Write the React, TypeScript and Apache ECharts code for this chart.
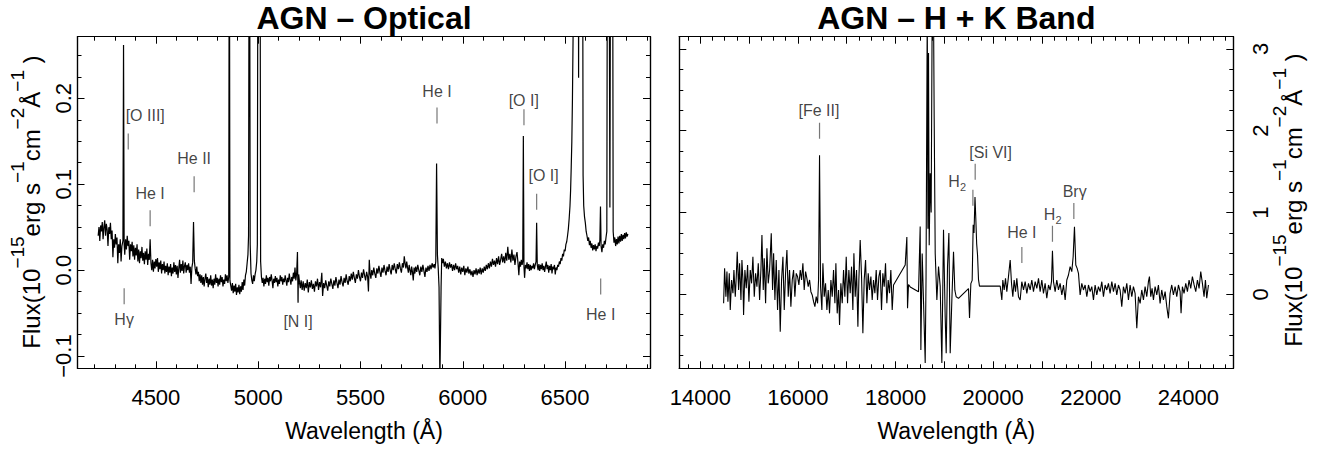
import React, { useEffect, useRef } from "react";
import * as echarts from "echarts";

// ---------------- DATA ----------------
// Optical spectrum: [wavelength (Å), flux (1e-15 erg s^-1 cm^-2 Å^-1)]
const opticalSpectrum: [number, number][] = [
  [4218,0.040],[4222,0.050],[4226,0.034],[4230,0.052],[4234,0.045],[4238,0.056],[4242,0.036],[4246,0.050],[4250,0.058],[4254,0.040],
  [4258,0.054],[4262,0.047],[4266,0.028],[4270,0.050],[4274,0.042],[4278,0.055],[4282,0.036],[4286,0.046],[4290,0.015],[4294,0.036],
  [4298,0.026],[4302,0.042],[4306,0.030],[4310,0.038],[4314,0.008],[4318,0.030],[4322,0.020],[4326,0.036],[4330,0.010],[4334,0.028],
  [4339,0.034],[4342,0.262],[4345,0.030],
  [4348,0.018],[4352,0.036],[4356,0.024],[4360,0.040],[4364,0.028],[4368,0.034],[4372,0.012],[4376,0.030],[4380,0.022],[4384,0.033],
  [4388,0.016],[4392,0.029],[4396,0.012],[4400,0.026],[4404,0.017],[4408,0.030],[4412,0.010],[4416,0.024],[4420,0.008],[4424,0.022],
  [4428,0.014],[4432,0.027],[4436,0.011],[4440,0.020],[4444,0.007],[4448,0.022],[4452,0.012],[4456,0.025],[4460,0.006],[4464,0.019],
  [4468,0.012],[4472,0.036],[4476,0.008],
  [4480,0.000],[4484,0.012],[4488,-0.002],[4492,0.010],[4496,0.002],[4500,0.013],[4504,0.004],[4508,0.014],[4512,-0.002],[4516,0.009],
  [4520,0.001],[4524,0.011],[4528,-0.004],[4532,0.007],[4536,0.000],[4540,0.010],[4544,-0.004],[4548,0.005],[4552,-0.002],[4556,0.008],
  [4560,-0.006],[4564,0.004],[4568,-0.003],[4572,0.007],[4576,-0.007],[4580,0.003],[4584,-0.004],[4588,0.009],[4592,-0.002],[4596,0.006],
  [4600,-0.005],[4604,0.005],[4608,-0.009],[4612,0.002],[4616,0.012],[4620,-0.003],[4624,0.007],[4628,-0.001],[4632,0.011],[4636,-0.004],
  [4640,0.005],[4644,0.009],[4648,-0.003],[4652,0.006],[4656,0.000],[4660,0.008],[4664,-0.003],[4668,0.004],[4672,-0.016],[4676,0.003],
  [4680,0.009],[4684,0.056],[4688,0.011],
  [4692,0.002],[4696,-0.005],[4700,0.004],[4704,-0.007],[4708,-0.002],[4712,-0.013],[4716,-0.005],[4720,-0.015],[4724,-0.006],[4728,-0.017],
  [4732,-0.008],[4736,-0.019],[4740,-0.010],[4744,-0.004],[4748,-0.015],[4752,-0.008],[4756,-0.020],[4760,-0.010],[4764,-0.017],[4768,-0.006],
  [4772,-0.018],[4776,-0.011],[4780,-0.021],[4784,-0.010],[4788,-0.017],[4792,-0.005],[4796,-0.015],[4800,-0.009],[4804,-0.019],[4808,-0.010],
  [4812,-0.017],[4816,-0.006],[4820,-0.014],[4824,-0.008],[4828,-0.019],[4832,-0.011],[4836,-0.016],[4840,-0.005],[4844,-0.013],[4848,-0.006],
  [4852,-0.015],[4856,-0.008],[4859,0.5],[4862,-0.012],
  [4866,-0.018],[4870,-0.024],[4874,-0.015],[4878,-0.027],[4882,-0.018],[4886,-0.025],[4890,-0.016],[4894,-0.029],[4898,-0.020],[4902,-0.026],
  [4906,-0.017],[4910,-0.028],[4914,-0.019],[4918,-0.025],[4922,-0.014],[4926,-0.023],[4930,-0.011],[4934,-0.018],[4938,-0.006],[4942,-0.002],
  [4946,0.008],[4950,0.018],[4953,0.040],[4957,0.6],[4961,0.030],[4965,-0.004],[4969,-0.012],[4973,-0.016],[4977,-0.006],[4981,-0.013],
  [4985,-0.005],[4989,0.000],[4993,0.010],[4996,0.030],[5000,0.6],[5008,0.6],[5012,0.010],
  [5016,-0.008],[5020,-0.015],[5024,-0.009],[5028,-0.019],[5032,-0.010],[5036,-0.016],[5040,-0.006],[5044,-0.014],[5048,-0.009],[5052,-0.018],
  [5056,-0.008],[5060,-0.013],[5064,-0.005],[5068,-0.012],[5072,-0.021],[5076,-0.010],[5080,-0.015],[5084,-0.007],[5088,-0.014],[5092,-0.009],
  [5096,-0.019],[5100,-0.011],[5104,-0.016],[5108,-0.006],[5112,-0.013],[5116,-0.008],[5120,-0.017],[5124,-0.010],[5128,-0.014],[5132,-0.006],
  [5136,-0.012],[5140,-0.018],[5144,-0.009],[5148,-0.014],[5152,-0.004],[5156,-0.011],[5160,-0.017],[5164,-0.008],[5168,-0.013],[5172,-0.003],
  [5176,-0.010],[5180,0.003],[5184,-0.012],[5188,-0.004],[5192,0.021],[5195,-0.038],[5198,-0.005],
  [5202,-0.014],[5206,-0.021],[5210,-0.012],[5215,-0.023],[5220,-0.013],[5225,-0.024],[5230,-0.015],[5235,-0.021],[5240,-0.011],[5245,-0.026],
  [5250,-0.014],[5255,-0.020],[5260,-0.012],[5265,-0.022],[5270,-0.016],[5275,-0.025],[5280,-0.013],[5285,-0.019],[5290,-0.010],[5295,-0.023],
  [5300,-0.014],[5305,-0.020],[5311,-0.003],[5315,-0.030],[5320,-0.015],[5325,-0.021],[5330,-0.012],[5335,-0.018],[5340,-0.024],[5345,-0.013],
  [5350,-0.019],[5355,-0.010],[5360,-0.016],[5365,-0.022],[5370,-0.012],[5375,-0.018],[5380,-0.008],[5385,-0.015],[5390,-0.021],[5395,-0.011],
  [5400,-0.017],[5405,-0.007],[5410,-0.014],[5415,-0.019],[5420,-0.009],[5425,-0.015],[5430,-0.005],[5435,-0.013],[5440,-0.017],
  [5445,-0.007],[5450,-0.013],[5455,-0.004],[5460,-0.011],[5465,-0.002],[5470,-0.009],[5475,-0.015],[5480,-0.005],[5485,-0.010],[5490,0.000],
  [5495,-0.008],[5500,-0.013],[5505,-0.003],[5510,-0.009],[5515,0.001],[5520,-0.006],[5525,-0.012],[5530,-0.002],[5535,-0.008],[5539,-0.025],
  [5543,0.012],[5547,-0.004],[5551,-0.010],[5555,0.000],[5560,-0.006],[5565,0.003],[5570,-0.004],[5575,-0.009],[5580,0.002],[5585,-0.004],
  [5590,0.005],[5595,-0.002],[5600,-0.008],[5605,0.003],[5610,-0.003],[5615,0.006],[5620,-0.001],[5625,-0.006],[5630,0.004],[5635,-0.002],
  [5640,0.007],[5645,0.000],[5650,-0.005],[5655,0.006],[5660,0.000],[5665,0.008],[5670,0.001],[5675,-0.004],[5680,0.007],[5685,0.001],
  [5690,0.009],[5695,0.002],[5700,-0.003],[5705,0.008],[5710,0.003],[5714,0.016],[5718,0.008],[5722,0.002],[5726,0.010],[5730,0.003],
  [5734,-0.003],[5738,0.006],[5742,0.000],[5746,-0.006],[5750,0.004],[5754,-0.002],[5758,-0.012],[5762,0.003],[5766,-0.004],[5770,0.004],
  [5775,-0.002],[5780,0.006],[5785,0.000],[5790,-0.006],[5795,0.004],[5800,-0.002],[5805,0.006],[5810,-0.001],[5815,-0.008],[5820,0.003],
  [5825,-0.002],[5830,0.005],[5835,-0.001],[5840,0.006],[5845,0.001],[5850,0.008],[5855,0.003],[5860,0.007],[5864,0.002],[5868,0.010],
  [5872,0.124],[5876,0.018],[5880,0.002],[5884,-0.020],[5888,-0.130],[5891,-0.130],[5894,-0.020],[5897,0.014],
  [5901,0.008],[5905,0.013],[5910,0.004],[5915,0.010],[5920,0.002],[5925,0.008],[5930,0.001],[5935,0.009],[5940,0.003],[5945,0.007],
  [5950,-0.001],[5955,0.006],[5960,0.000],[5965,0.008],[5970,0.001],[5975,0.005],[5980,-0.003],[5985,0.004],[5990,-0.005],[5995,0.003],
  [6000,-0.002],[6005,0.005],[6010,-0.006],[6015,0.002],[6020,-0.003],[6025,0.004],[6030,-0.004],[6035,0.001],[6040,-0.006],[6045,-0.001],
  [6050,-0.008],[6055,0.000],[6060,-0.005],[6065,0.002],[6070,-0.006],[6075,0.001],[6080,-0.004],[6085,0.003],[6090,-0.005],[6095,0.002],
  [6100,-0.003],[6105,0.004],[6110,-0.001],[6115,0.006],[6120,0.001],[6125,0.008],[6130,0.002],[6135,0.010],[6140,0.004],[6145,0.013],
  [6150,0.006],[6155,0.011],[6160,0.004],[6165,0.014],[6170,0.007],[6175,0.016],[6180,0.006],[6185,0.012],[6190,0.019],[6195,0.009],
  [6200,0.016],[6205,0.008],[6210,0.020],[6215,0.011],[6220,0.027],[6225,0.012],[6230,0.019],[6235,0.009],[6240,0.024],[6245,0.011],
  [6250,0.018],[6255,0.006],[6260,0.016],[6265,0.021],[6270,0.008],[6274,-0.006],[6278,0.010],[6282,0.004],[6286,0.012],[6290,0.006],
  [6293,0.010],[6296,0.156],[6299,0.004],[6302,-0.009],[6306,0.006],
  [6310,0.002],[6314,0.009],[6318,0.001],[6322,0.007],[6326,-0.001],[6330,0.006],[6334,0.000],[6338,0.005],[6342,0.002],[6346,0.008],
  [6350,0.001],[6354,0.006],[6358,0.010],[6361,0.055],[6364,0.006],[6368,0.000],[6372,0.007],[6376,-0.001],[6380,0.006],[6384,0.001],
  [6388,0.008],[6392,0.000],[6396,0.005],[6400,-0.002],[6404,0.004],[6408,0.010],[6412,0.001],[6416,0.006],[6420,-0.003],[6424,0.005],
  [6428,0.000],[6432,0.007],[6436,-0.004],[6440,0.004],[6444,0.001],[6448,0.006],[6452,-0.005],[6456,0.003],[6460,0.000],[6464,0.006],
  [6468,0.004],[6472,0.010],[6476,0.007],
  [6480,0.014],[6484,0.011],[6488,0.019],[6492,0.016],[6496,0.024],[6500,0.022],[6504,0.030],[6508,0.033],[6512,0.040],[6516,0.048],
  [6520,0.060],[6524,0.075],[6527,0.093],[6530,0.120],[6533,0.150],[6536,0.200],[6539,0.270],[6542,0.400],[6545,0.8],[6555,0.9],
  [6562,0.8],[6566,0.224],[6570,0.8],[6580,0.9],[6585,0.5],[6588,0.110],[6591,0.075],[6595,0.062],[6599,0.055],[6603,0.045],
  [6607,0.040],[6611,0.034],[6615,0.038],[6619,0.029],[6623,0.034],[6627,0.026],[6631,0.031],[6635,0.023],[6639,0.029],[6643,0.024],
  [6647,0.030],[6651,0.022],[6655,0.028],[6659,0.025],[6663,0.032],[6667,0.028],[6670,0.035],[6673,0.074],[6676,0.028],[6680,0.021],
  [6684,0.030],[6688,0.026],[6692,0.034],[6696,0.030],[6700,0.038],[6704,0.045],[6708,0.6],[6713,0.6],[6719,0.073],[6724,0.6],
  [6731,0.6],[6735,0.045],
  [6739,0.032],[6743,0.038],[6747,0.028],[6751,0.036],[6755,0.030],[6759,0.039],[6763,0.031],[6767,0.040],[6771,0.033],[6775,0.042],
  [6779,0.034],[6783,0.041],[6787,0.036],[6791,0.043],[6795,0.037],[6799,0.044],[6803,0.039],[6807,0.042],
];

// Near-IR (H + K band) spectrum: [wavelength (Å), flux]
const nirSpectrum: [number, number][] = [
  [14478,-0.110],[14498,0.317],[14525,-0.029],[14546,0.277],[14566,-0.090],[14594,0.256],[14614,-0.192],[14641,0.175],[14669,0.012],[14689,0.297],
  [14717,-0.029],[14737,0.216],[14757,0.521],[14785,0.053],[14805,0.379],[14833,-0.070],[14853,0.419],[14874,0.175],[14887,-0.253],[14914,0.297],
  [14942,0.073],[14969,0.358],[14996,-0.090],[15024,0.297],[15051,0.134],[15078,0.460],[15106,-0.029],[15133,0.256],[15160,0.093],[15188,0.379],
  [15215,-0.070],[15242,0.297],[15263,0.725],[15290,0.053],[15310,0.440],[15338,-0.110],[15365,0.562],[15392,0.134],[15420,0.297],[15454,0.745],
  [15481,0.053],[15502,0.501],[15529,-0.070],[15556,0.419],[15583,-0.192],[15611,0.297],[15638,-0.457],[15665,0.175],[15693,0.460],[15720,-0.192],
  [15747,0.256],[15775,0.542],[15802,-0.029],[15829,0.297],[15856,-0.151],[15884,0.175],[15911,0.297],[15938,-0.029],[15966,0.256],[15993,0.216],
  [16020,0.114],[16048,0.297],[16075,0.175],[16102,0.379],[16129,0.053],[16157,0.277],[16184,0.195],[16211,0.093],[16239,0.175],[16266,0.032],
  [16293,-0.008],[16321,-0.090],[16348,-0.151],[16375,-0.029],[16403,-0.110],[16423,0.175],[16443,1.700],[16464,0.093],[16491,-0.192],[16512,0.379],
  [16539,-0.029],[16566,0.134],[16594,-0.192],[16621,0.053],[16648,-0.233],[16676,0.175],[16703,-0.029],[16730,0.297],[16758,-0.110],[16778,0.379],
  [16805,-0.233],[16833,0.053],[16853,-0.375],[16880,0.134],[16908,-0.110],[16935,0.297],[16962,-0.029],[16990,0.460],[17017,-0.110],[17044,0.297],
  [17071,0.012],[17099,0.338],[17126,-0.192],[17147,0.501],[17174,-0.029],[17201,0.297],[17229,-0.396],[17249,0.175],[17276,0.664],[17304,0.216],
  [17331,-0.477],[17358,0.175],[17386,0.419],[17413,-0.110],[17440,0.256],[17467,0.053],[17495,0.216],[17522,-0.070],[17549,0.175],[17577,0.012],
  [17604,0.297],[17631,-0.070],[17659,0.216],[17686,0.297],[17713,-0.192],[17740,0.256],[17768,0.093],[17795,0.379],[17822,-0.110],[17850,0.175],
  [17877,0.012],[17904,0.297],[17932,-0.192],[17959,0.114],
  [18198,0.358],[18232,0.700],[18246,-0.170],[18266,0.120],[18301,0.090],
  [18471,0.030],[18505,0.830],[18519,-0.680],[18546,0.500],[18574,-0.100],[18608,-0.840],[18625,0.200],[18650,3.500],[18664,0.800],[18676,2.950],
  [18690,0.600],[18710,1.480],[18730,1.000],[18751,3.500],[18778,3.500],[18792,2.150],[18813,0.500],[18847,-0.070],[18881,0.340],[18915,0.100],
  [18949,-0.840],[18983,0.790],[19017,-0.270],[19038,-0.720],[19065,0.340],[19093,0.750],[19120,-0.720],[19154,-0.070],[19188,0.520],[19215,0.050],
  [19242,-0.030],[19290,-0.050],
  [19495,0.070],[19516,-0.290],[19543,0.130],[19570,0.170],[19591,0.850],[19608,0.750],[19628,1.190],[19645,0.920],[19662,0.620],[19680,0.480],
  [19700,0.180],[19720,0.100],
  [20144,0.101],[20178,-0.070],[20198,0.175],[20226,0.053],[20253,0.195],[20280,0.032],[20314,0.216],[20349,0.419],[20376,0.134],[20403,-0.029],
  [20430,0.175],[20458,0.032],[20485,0.195],[20519,-0.029],[20553,-0.070],[20587,0.154],[20622,0.053],[20656,0.154],[20690,0.012],[20724,0.134],
  [20758,0.053],[20792,0.175],[20826,0.032],[20861,0.154],[20895,0.073],[20929,0.195],[20963,0.032],[20997,0.175],[21031,0.012],[21065,0.134],
  [21099,-0.049],[21134,0.114],[21168,0.053],[21195,0.154],[21215,0.533],[21236,0.154],[21270,0.032],[21304,0.175],[21338,0.053],[21372,0.134],
  [21407,-0.008],[21441,0.114],[21475,-0.070],[21509,0.175],[21543,0.236],[21577,0.338],[21611,0.277],[21639,0.460],[21666,0.827],[21693,0.358],
  [21721,0.317],[21748,0.256],[21782,-0.008],[21816,0.134],[21850,0.053],[21884,0.114],[21919,-0.029],[21953,0.114],[21987,0.032],[22021,0.093],
  [22055,-0.070],[22089,0.114],[22123,-0.008],[22157,0.093],[22192,0.032],[22226,0.154],[22260,-0.029],[22294,0.114],[22328,0.053],[22362,0.134],
  [22396,0.012],[22431,0.154],[22465,0.032],[22499,0.134],[22533,-0.008],[22567,0.114],[22601,0.053],[22635,-0.151],[22669,0.093],[22704,0.012],
  [22738,0.134],[22772,-0.070],[22806,0.114],[22840,-0.029],[22874,0.093],[22908,0.012],[22943,-0.416],[22977,-0.029],[23011,-0.111],[23045,0.053],
  [23079,-0.070],[23113,0.093],[23147,-0.029],[23181,0.154],[23202,0.216],[23229,-0.029],[23256,0.073],[23284,-0.070],[23318,0.093],[23352,-0.008],
  [23386,0.114],[23420,-0.111],[23454,0.053],[23489,-0.070],[23523,0.032],[23557,-0.151],[23591,-0.294],[23625,0.012],[23659,0.114],[23693,-0.008],
  [23728,0.093],[23762,-0.029],[23796,0.114],[23830,0.032],[23850,-0.233],[23877,0.093],[23911,0.012],[23946,0.134],[23980,0.032],[24014,0.175],
  [24048,0.073],[24082,0.216],[24117,0.114],[24151,0.032],[24185,0.175],[24219,0.073],[24253,0.277],[24287,0.134],[24321,-0.029],[24349,0.175],
  [24376,-0.049],[24411,0.114],
];

// Line identifications, optical panel
const opticalLineNames = ["[O III]", "He II", "He I", "Hγ", "[N I]", "He I", "[O I]", "[O I]", "He I"];
const opticalMarkWave = [4365, 4687, 4472, 4345, 5195, 5874, 6299, 6361, 6674];
const opticalMarkFlux = [0.1496, 0.100, 0.0605, -0.0303, -0.0262, 0.180, 0.178, 0.0797, -0.0192];
const opticalLabelWave = [4448, 4687, 4472, 4345, 5195, 5874, 6298, 6395, 6674];
const opticalLabelFlux = [0.180, 0.130, 0.0896, -0.057, -0.0594, 0.208, 0.198, 0.110, -0.0512];

// Line identifications, H + K panel
const nirLineNames = ["[Fe II]", "H2", "[Si VI]", "He I", "H2", "Brγ"];
const nirMarkWave = [16443, 19585, 19632, 20588, 21215, 21653];
const nirMarkFlux = [2.00, 1.18, 1.50, 0.48, 0.74, 1.02];
const nirLabelWave = [16431, 19263, 19949, 20588, 21220, 21670];
const nirLabelFlux = [2.25, 1.38, 1.74, 0.75, 0.98, 1.26];

// Axis ticks and labels
const opticalXMajor = [4500, 5000, 5500, 6000, 6500];
const opticalXLabels = [4500, 5000, 5500, 6000, 6500];
const opticalYMajor = [-0.1, 0, 0.1, 0.2];
const opticalYLabels = [-0.1, 0, 0.1, 0.2];
const nirXMajor = [14000, 15000, 16000, 17000, 18000, 19000, 20000, 21000, 22000, 23000, 24000];
const nirXLabels = [14000, 16000, 18000, 20000, 22000, 24000];
const nirYMajor = [0, 1, 2, 3];
const nirYLabels = [0, 1, 2, 3];

const titles = ["AGN – Optical", "AGN – H + K Band"];
const xAxisTitle = "Wavelength (Å)";

// ---------------- HELPERS ----------------
const FONT = "'Liberation Sans', Arial, Helvetica, sans-serif";

function minorTicks(start: number, end: number, step: number, majors: number[]) {
  const out: number[] = [];
  for (let v = start; v <= end + 1e-9; v += step) {
    const r = Math.round(v * 1000) / 1000;
    if (!majors.some((m) => Math.abs(m - r) < 1e-6)) out.push(r);
  }
  return out;
}

const OPT_X = [4117, 6915];
const OPT_Y = [-0.1143, 0.2717];
const NIR_X = [13570, 24920];
const NIR_Y = [-0.905, 3.15];

function axis(gridIndex: number, position: string, range: number[], ticks: number[], len: number, label?: any) {
  return {
    type: "value",
    gridIndex,
    position,
    min: range[0],
    max: range[1],
    axisLine: { show: true, onZero: false, lineStyle: { color: "#000", width: 1.2 } },
    axisTick: { show: true, inside: true, length: len, customValues: ticks, lineStyle: { color: "#000", width: 1 } },
    axisLabel: label ? label : { show: false },
    splitLine: { show: false },
    axisPointer: { show: false },
  };
}

const xLabelStyle = (values: number[]) => ({
  show: true,
  customValues: values,
  fontSize: 22,
  color: "#000",
  fontFamily: FONT,
  margin: 18,
  formatter: (v: number) => String(v),
});

const yLabelStyle = (values: number[], margin: number, fmt: (v: number) => string) => ({
  show: true,
  customValues: values,
  rotate: 90,
  fontSize: 22,
  color: "#000",
  fontFamily: FONT,
  margin,
  formatter: fmt,
});

function yTitle(x: number, y: number) {
  return {
    type: "text",
    x,
    y,
    rotation: Math.PI / 2,
    style: {
      text: "{m|Flux(10}{s|−15}{m|erg s}{s|−1}{m|cm}{s|−2}{m|Å}{s|−1}{m| )}",
      align: "center",
      verticalAlign: "middle",
      fontFamily: FONT,
      fill: "#000",
      rich: {
        m: { fontSize: 24, lineHeight: 48, fontFamily: FONT, fill: "#000", verticalAlign: "middle" },
        s: { fontSize: 19, lineHeight: 19, fontFamily: FONT, fill: "#000", verticalAlign: "top" },
      },
    },
    silent: true,
  };
}

function markSeries(xi: number, yi: number, wave: number[], flux: number[]) {
  return {
    type: "scatter",
    xAxisIndex: xi,
    yAxisIndex: yi,
    symbol: "rect",
    symbolSize: [1.2, 16],
    itemStyle: { color: "#555" },
    data: wave.map((w, i) => [w, flux[i]]),
    silent: true,
    z: 3,
  };
}

function labelSeries(xi: number, yi: number, names: string[], wave: number[], flux: number[]) {
  return {
    type: "scatter",
    xAxisIndex: xi,
    yAxisIndex: yi,
    symbolSize: 1,
    itemStyle: { color: "rgba(0,0,0,0)" },
    data: names.map((n, i) => ({ name: n, value: [wave[i], flux[i]] })),
    label: {
      show: true,
      position: "inside",
      color: "#111",
      fontSize: 16,
      fontFamily: FONT,
      formatter: (p: any) => (p.name === "H2" ? "{m|H}{s|2}" : p.name),
      rich: {
        m: { fontSize: 16, lineHeight: 22, fontFamily: FONT, color: "#111" },
        s: { fontSize: 11, lineHeight: 10, fontFamily: FONT, color: "#111", verticalAlign: "bottom" },
      },
    },
    silent: true,
    z: 4,
  };
}

const fmtOpt = (v: number) => (Math.abs(v) < 1e-9 ? "0.0" : v.toFixed(1).replace("-", "−"));
const fmtNir = (v: number) => String(Math.round(v));

export default function App() {
  const ref = useRef<HTMLDivElement>(null);

  useEffect(() => {
    if (!ref.current) return;
    const chart = echarts.init(ref.current, undefined, { renderer: "svg" });

    const optXMinor = minorTicks(4200, 6900, 100, opticalXMajor);
    const optYMinor = minorTicks(-0.1, 0.25, 0.025, opticalYMajor);
    const nirXMinor = minorTicks(13750, 24750, 250, nirXMajor);
    const nirYMinor = minorTicks(-0.75, 3.0, 0.25, nirYMajor);

    const option: any = {
      animation: false,
      backgroundColor: "#fff",
      grid: [
        { left: 77.5, top: 36.7, width: 572.5, height: 331.6, outerBoundsMode: "none", containLabel: false },
        { left: 679.3, top: 36.7, width: 554, height: 331.6, outerBoundsMode: "none", containLabel: false },
      ],
      xAxis: [
        axis(0, "bottom", OPT_X, opticalXMajor, 7, xLabelStyle(opticalXLabels)),
        axis(0, "bottom", OPT_X, optXMinor, 4),
        axis(0, "top", OPT_X, opticalXMajor, 7),
        axis(0, "top", OPT_X, optXMinor, 4),
        axis(1, "bottom", NIR_X, nirXMajor, 7, xLabelStyle(nirXLabels)),
        axis(1, "bottom", NIR_X, nirXMinor, 4),
        axis(1, "top", NIR_X, nirXMajor, 7),
        axis(1, "top", NIR_X, nirXMinor, 4),
      ],
      yAxis: [
        axis(0, "left", OPT_Y, opticalYMajor, 7, yLabelStyle(opticalYLabels, 3, fmtOpt)),
        axis(0, "left", OPT_Y, optYMinor, 4),
        axis(0, "right", OPT_Y, opticalYMajor, 7),
        axis(0, "right", OPT_Y, optYMinor, 4),
        axis(1, "left", NIR_Y, nirYMajor, 7),
        axis(1, "left", NIR_Y, nirYMinor, 4),
        axis(1, "right", NIR_Y, nirYMajor, 7, yLabelStyle(nirYLabels, 16, fmtNir)),
        axis(1, "right", NIR_Y, nirYMinor, 4),
      ],
      series: [
        {
          type: "line",
          xAxisIndex: 0,
          yAxisIndex: 0,
          data: opticalSpectrum,
          showSymbol: false,
          symbol: "none",
          clip: true,
          lineStyle: { color: "#000", width: 1.2 },
          silent: true,
          z: 2,
        },
        {
          type: "line",
          xAxisIndex: 4,
          yAxisIndex: 6,
          data: nirSpectrum,
          showSymbol: false,
          symbol: "none",
          clip: true,
          lineStyle: { color: "#000", width: 1.1 },
          silent: true,
          z: 2,
        },
        markSeries(0, 0, opticalMarkWave, opticalMarkFlux),
        labelSeries(0, 0, opticalLineNames, opticalLabelWave, opticalLabelFlux),
        markSeries(4, 6, nirMarkWave, nirMarkFlux),
        labelSeries(4, 6, nirLineNames, nirLabelWave, nirLabelFlux),
      ],
      graphic: [
        {
          type: "text",
          x: 364,
          y: 18,
          style: { text: titles[0], align: "center", verticalAlign: "middle", fontSize: 32, fontWeight: "bold", fontFamily: FONT, fill: "#000" },
          silent: true,
        },
        {
          type: "text",
          x: 956.3,
          y: 18,
          style: { text: titles[1], align: "center", verticalAlign: "middle", fontSize: 32, fontWeight: "bold", fontFamily: FONT, fill: "#000" },
          silent: true,
        },
        {
          type: "text",
          x: 364,
          y: 430.5,
          style: { text: xAxisTitle, align: "center", verticalAlign: "middle", fontSize: 23, fontFamily: FONT, fill: "#000" },
          silent: true,
        },
        {
          type: "text",
          x: 956.3,
          y: 430.5,
          style: { text: xAxisTitle, align: "center", verticalAlign: "middle", fontSize: 23, fontFamily: FONT, fill: "#000" },
          silent: true,
        },
        yTitle(31.7, 202),
        yTitle(1293.5, 200),
      ],
    };

    chart.setOption(option);
    return () => chart.dispose();
  }, []);

  return (
    <div
      ref={ref}
      style={{ position: "absolute", left: 0, top: 0, width: 1320, height: 449, background: "#fff" }}
    />
  );
}
